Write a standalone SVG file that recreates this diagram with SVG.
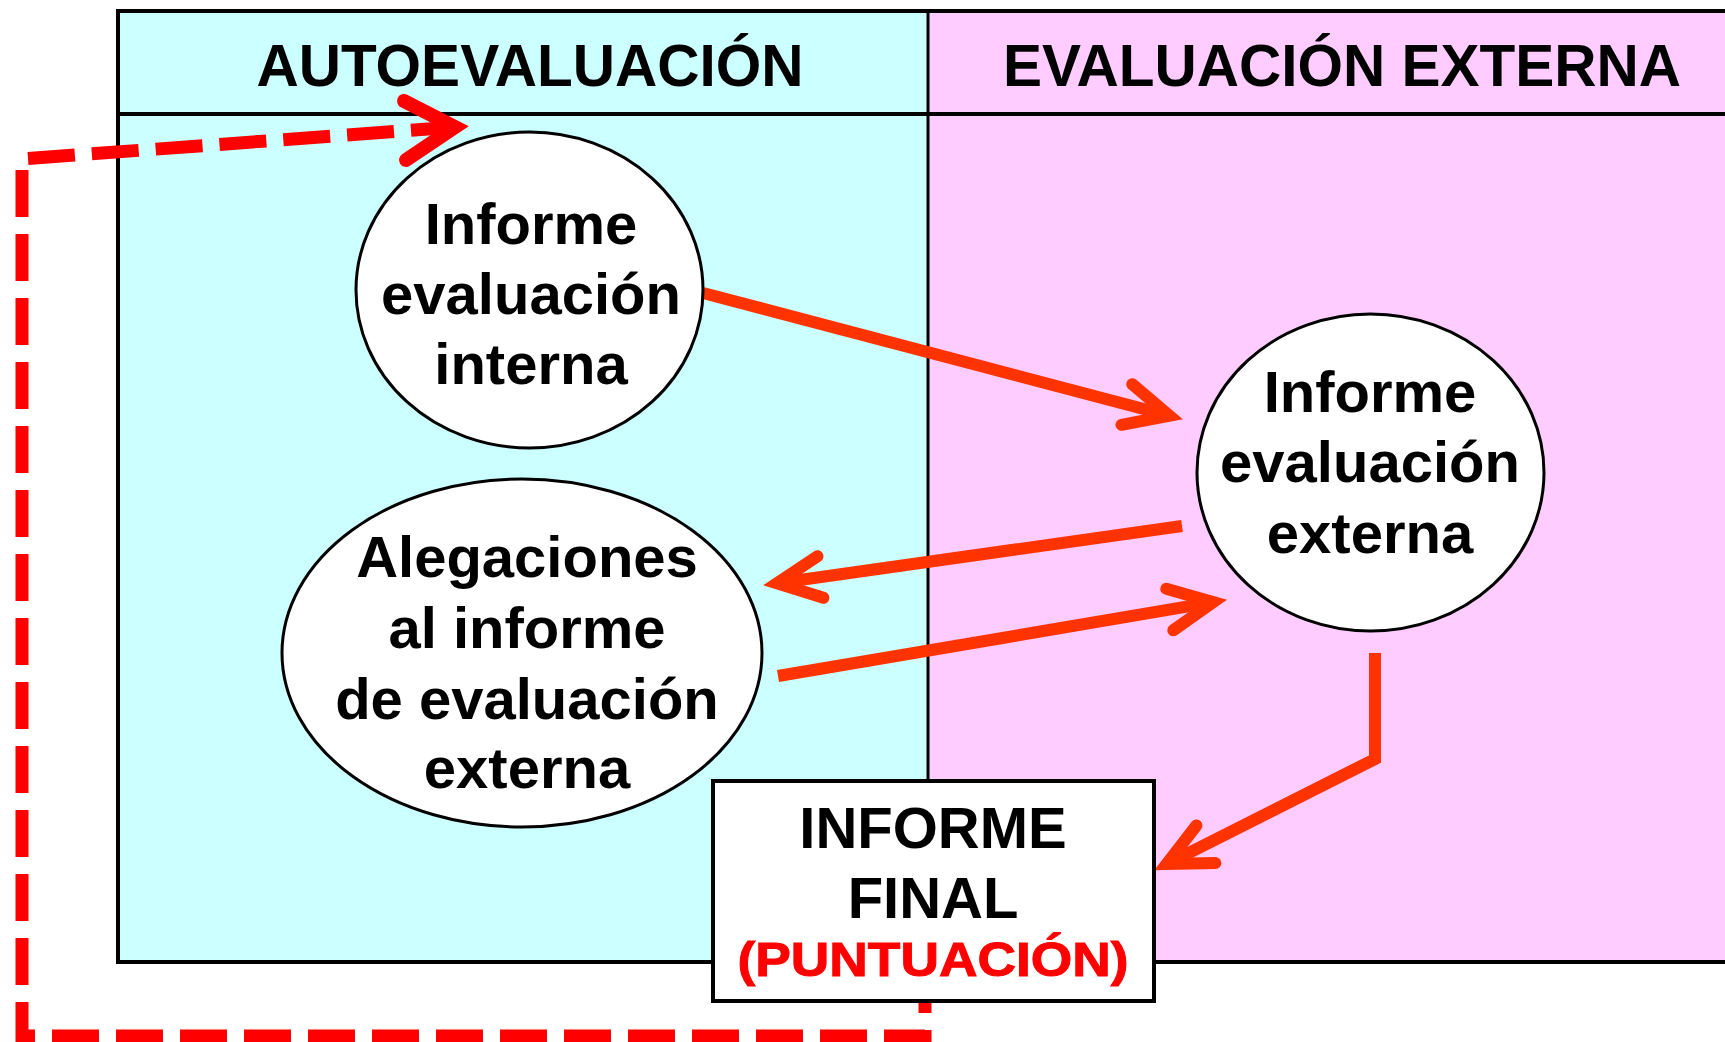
<svg xmlns="http://www.w3.org/2000/svg" width="1725" height="1042" viewBox="0 0 1725 1042">
  <style>
    .t { font-family: "Liberation Sans", Arial, sans-serif; font-weight: bold; font-size: 58px; fill: #000; text-anchor: middle; }
    .node { fill: #fff; stroke: #000; stroke-width: 3; }
    .conn { fill: none; stroke: #FF3300; stroke-width: 12; stroke-linejoin: miter; stroke-miterlimit: 10; }
    .dash { fill: none; stroke: #FF0000; stroke-width: 13; stroke-dasharray: 47 17; }
  </style>
  <defs>
    <marker id="head" markerUnits="userSpaceOnUse" orient="auto" refX="0" refY="0" markerWidth="10" markerHeight="10" overflow="visible">
      <path d="M-44,-21 L0,0 L-44,21" fill="none" stroke="#FF3300" stroke-width="12" stroke-linecap="round" stroke-linejoin="miter" stroke-miterlimit="10"/>
    </marker>
  </defs>
  <rect width="1725" height="1042" fill="#fff"/>

  <g id="lanes">
    <rect x="118" y="11" width="810" height="951" fill="#CCFFFF"/>
    <rect x="928" y="11" width="900" height="951" fill="#FFCCFF"/>
    <line x1="928" y1="11" x2="928" y2="962" stroke="#000" stroke-width="3"/>
    <line x1="118" y1="114" x2="1725" y2="114" stroke="#000" stroke-width="4"/>
    <path d="M1730,11 H118 V962 H1730" fill="none" stroke="#000" stroke-width="4"/>
    <text class="t" x="530" y="86" style="font-size:58.5px">AUTOEVALUACIÓN</text>
    <text class="t" x="1342" y="86" style="font-size:58.5px">EVALUACIÓN EXTERNA</text>
  </g>

  <g id="connectors">
    <path class="dash" d="M925,966 V1036 H22 V159 L455,127"/>
    <path d="M404,101 L455,127 L406,160" fill="none" stroke="#FF0000" stroke-width="14" stroke-linecap="round" stroke-linejoin="miter" stroke-miterlimit="10"/>
    <path class="conn" d="M703,293 L1169.4,415.7" marker-end="url(#head)"/>
    <path class="conn" d="M1182,526 L776.9,583.2" marker-end="url(#head)"/>
    <path class="conn" d="M778,676 L1213.2,602.2" marker-end="url(#head)"/>
    <path class="conn" d="M1375,653 L1375,759 L1166.6,864.1" marker-end="url(#head)"/>
  </g>

  <g id="informe-interna">
    <ellipse class="node" cx="529.5" cy="290" rx="173.5" ry="158"/>
    <text class="t" x="531" y="244">Informe</text>
    <text class="t" x="531" y="314">evaluación</text>
    <text class="t" x="531" y="384">interna</text>
  </g>

  <g id="informe-externa">
    <ellipse class="node" cx="1370.5" cy="472.5" rx="173.5" ry="158.5"/>
    <text class="t" x="1370" y="412">Informe</text>
    <text class="t" x="1370" y="482">evaluación</text>
    <text class="t" x="1370" y="553">externa</text>
  </g>

  <g id="alegaciones">
    <ellipse class="node" cx="522" cy="653" rx="240" ry="174"/>
    <text class="t" x="527" y="577">Alegaciones</text>
    <text class="t" x="527" y="648">al informe</text>
    <text class="t" x="527" y="719">de evaluación</text>
    <text class="t" x="527" y="788">externa</text>
  </g>

  <g id="informe-final">
    <rect x="713" y="781" width="441" height="220" fill="#fff" stroke="#000" stroke-width="4"/>
    <text class="t" x="933" y="976" style="fill:#FF0000;stroke:#FF0000;stroke-width:1px;font-size:48px" textLength="391" lengthAdjust="spacingAndGlyphs">(PUNTUACIÓN)</text>
    <text class="t" x="933" y="848">INFORME</text>
    <text class="t" x="933" y="918">FINAL</text>
  </g>
</svg>
